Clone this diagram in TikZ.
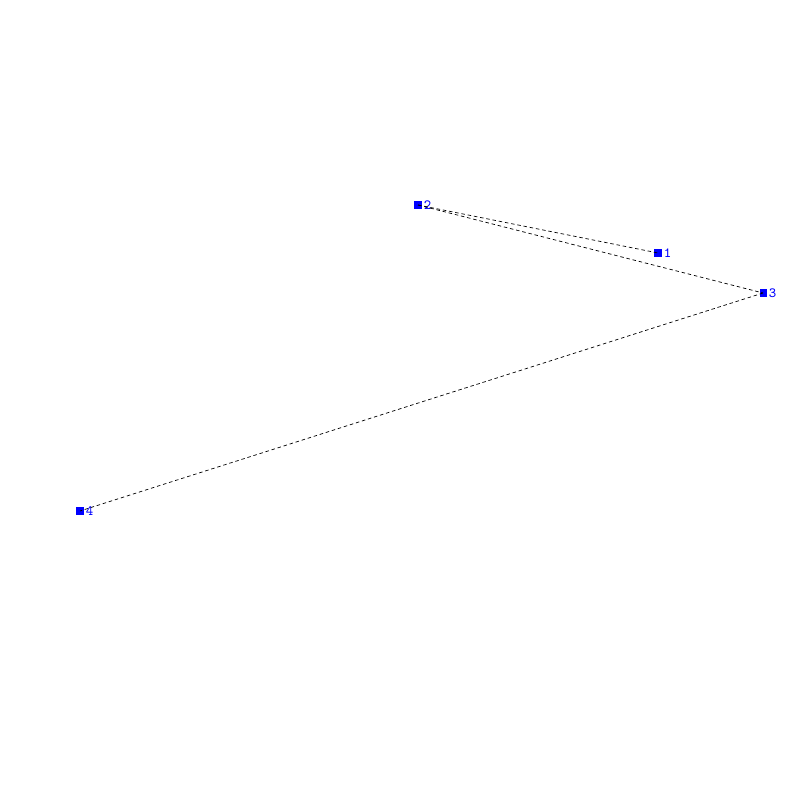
\documentclass[tikz,border=0pt]{standalone}
\usepackage{tikz}
\definecolor{vtxcolor}{RGB}{0,0,255}

\begin{document}
\begin{tikzpicture}[
    vtx/.style={fill=vtxcolor, inner sep=0pt, minimum size=4pt},
    lbl/.style={text=vtxcolor, font=\ttfamily\fontsize{8}{9}\selectfont, inner sep=1pt},
    edge/.style={black, line width=0.4pt, dash pattern=on 2pt off 1.6pt}
]
    % Canvas
    \useasboundingbox (0,0) rectangle (16,16);

    % Vertices
    \node[vtx, label={[lbl]right:1}] (n1) at (13.16, 10.94) {};
    \node[vtx, label={[lbl]right:2}] (n2) at (8.36, 11.90) {};
    \node[vtx, label={[lbl]right:3}] (n3) at (15.26, 10.14) {};
    \node[vtx, label={[lbl]right:4}] (n4) at (1.60, 5.78) {};

    % Edges
    \draw[edge] (n2.center) -- (n1.center);
    \draw[edge] (n2.center) -- (n3.center);
    \draw[edge] (n3.center) -- (n4.center);
\end{tikzpicture}
\end{document}
